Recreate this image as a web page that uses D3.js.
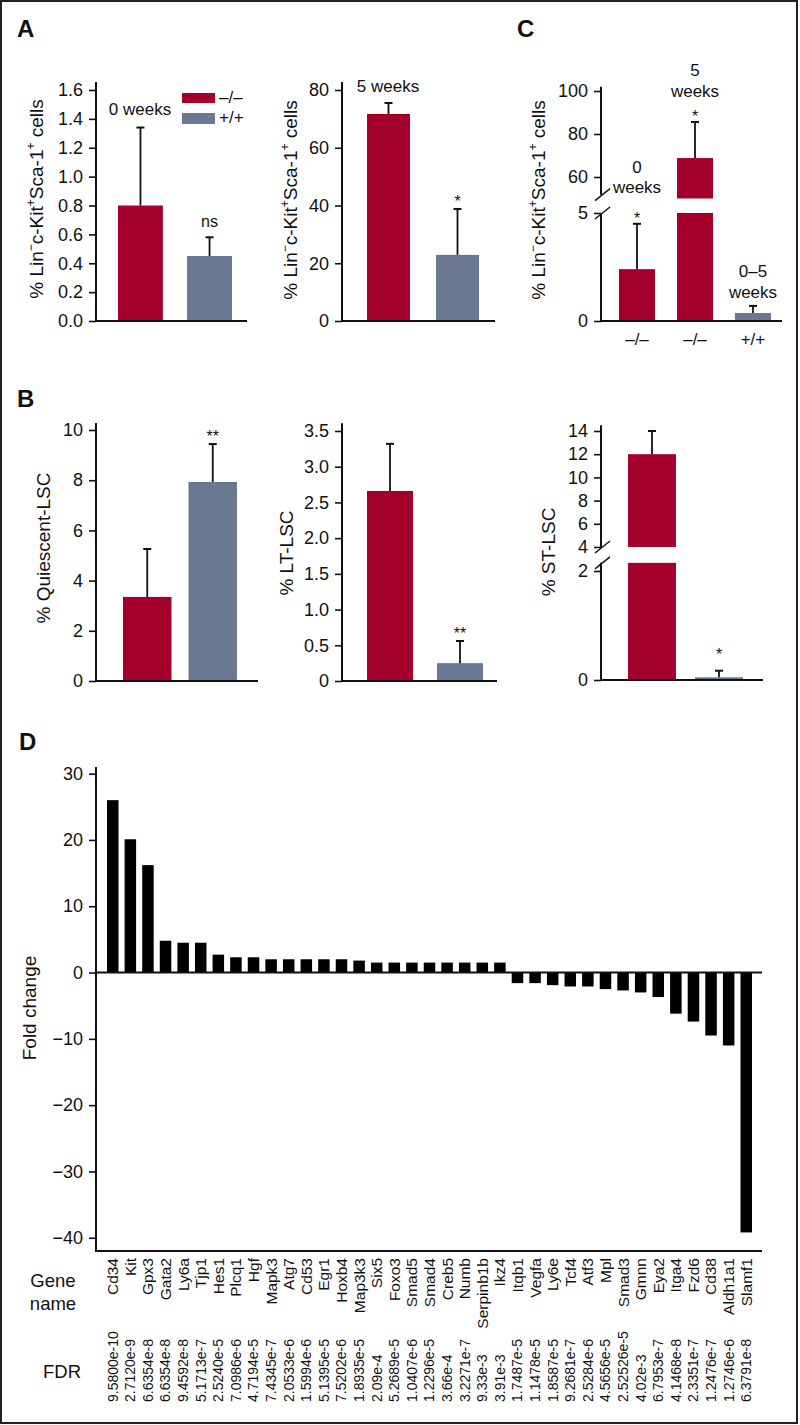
<!DOCTYPE html>
<html><head><meta charset="utf-8">
<script src="https://cdn.jsdelivr.net/npm/d3@7"></script>
<style>
body{margin:0;background:#fff}
svg{display:block}
text{font-family:"Liberation Sans",Arial,Helvetica,sans-serif;fill:#111}
</style></head><body>
<svg id="fig" width="800" height="1425"></svg>
<script>
// ---------------- DATA ----------------
const genotypes = ["–/–", "+/+"];
const a0Vals = [0.80, 0.45], a0Errs = [1.34, 0.58];          // 0 weeks
const a5Vals = [71.7, 22.9], a5Errs = [75.5, 38.8];          // 5 weeks
const a0Ticks = [0, 0.2, 0.4, 0.6, 0.8, 1.0, 1.2, 1.4, 1.6];
const a5Ticks = [0, 20, 40, 60, 80];

const cLabels = ["–/–", "–/–", "+/+"];
const cTimes = [["0", "weeks"], ["5", "weeks"], ["0–5", "weeks"]];
const cVals = [2.4, 68.8, 0.37], cErrs = [4.5, 85.6, 0.7];
const cSig = ["*", "*", ""];
const cTicksUpper = [60, 80, 100], cTicksLower = [0, 5];

const qVals = [3.35, 7.93], qErrs = [5.26, 9.44];            // Quiescent-LSC
const ltVals = [2.66, 0.25], ltErrs = [3.32, 0.56];          // LT-LSC
const stVals = [12.0, 0.05], stErrs = [14.0, 0.17];          // ST-LSC
const qTicks = [0, 2, 4, 6, 8, 10];
const ltTicks = [0, 0.5, 1.0, 1.5, 2.0, 2.5, 3.0, 3.5];
const stTicksUpper = [4, 6, 8, 10, 12, 14], stTicksLower = [0, 2];
const bSig = { q: ["", "**"], lt: ["", "**"], st: ["", "*"] };

const genes = ["Cd34","Kit","Gpx3","Gata2","Ly6a","Tjp1","Hes1","Plcq1","Hgf","Mapk3","Atg7","Cd53","Egr1","Hoxb4","Map3k3","Six5","Foxo3","Smad5","Smad4","Creb5","Numb","Serpinb1b","Ikz4","Itqb1","Vegfa","Ly6e","Tcf4","Atf3","Mpl","Smad3","Gmnn","Eya2","Itga4","Fzd6","Cd38","Aldh1a1","Slamf1"];
const foldChange = [26.0,20.1,16.2,4.8,4.5,4.5,2.7,2.3,2.3,2.0,2.0,2.0,2.0,2.0,1.8,1.5,1.5,1.5,1.5,1.5,1.5,1.5,1.5,-1.6,-1.6,-1.9,-2.1,-2.1,-2.5,-2.7,-3.0,-3.7,-6.2,-7.4,-9.5,-11.0,-39.2];
const fdr = ["9.5800e-10","2.7120e-9","6.6354e-8","6.6354e-8","9.4592e-8","5.1713e-7","2.5240e-5","7.0986e-6","4.7194e-5","7.4345e-7","2.0533e-6","1.5994e-6","5.1395e-5","7.5202e-6","1.8935e-5","2.09e-4","5.2689e-5","1.0407e-6","1.2296e-5","3.66e-4","3.2271e-7","9.33e-3","3.91e-3","1.7487e-5","1.1478e-5","1.8587e-5","9.2681e-7","2.5284e-6","4.5656e-5","2.52526e-5","4.02e-3","6.7953e-7","4.1468e-8","2.3351e-7","1.2476e-7","1.2746e-6","6.3791e-8"];
const dTicks = [-40, -30, -20, -10, 0, 10, 20, 30];

// ---------------- STYLE ----------------
const RED = "#a3002b", GRAY = "#6b7892", INK = "#111";
const FONT = '"Liberation Sans", Arial, Helvetica, sans-serif';
const svg = d3.select("#fig");

svg.append("rect").attr("x", 1).attr("y", 1).attr("width", 796).attr("height", 1422)
  .attr("fill", "none").attr("stroke", "#222").attr("stroke-width", 2);

function panelLetter(t, x, y) {
  svg.append("text").attr("x", x).attr("y", y).attr("font-size", 24)
    .attr("font-weight", "bold").text(t);
}
function vline(x, y1, y2, w) {
  svg.append("line").attr("x1", x).attr("x2", x).attr("y1", y1).attr("y2", y2)
    .attr("stroke", INK).attr("stroke-width", w || 2);
}
function hline(x1, x2, y, w) {
  svg.append("line").attr("x1", x1).attr("x2", x2).attr("y1", y).attr("y2", y)
    .attr("stroke", INK).attr("stroke-width", w || 2);
}
function ticksLeft(scale, x, vals, fmt, fs) {
  const g = svg.append("g").attr("transform", `translate(${x},0)`)
    .call(d3.axisLeft(scale).tickValues(vals).tickFormat(fmt).tickSize(7).tickPadding(6).tickSizeOuter(0));
  g.select(".domain").remove();
  g.attr("font-family", FONT).attr("font-size", fs || 18);
  g.selectAll(".tick line").attr("stroke", INK).attr("stroke-width", 1.6);
  g.selectAll(".tick text").attr("fill", INK);
}
function yLabel(parts, bx, cy, fs) {
  const t = svg.append("text").attr("transform", `translate(${bx},${cy}) rotate(-90)`)
    .attr("text-anchor", "middle").attr("font-size", fs || 19);
  let prevSup = false;
  parts.forEach(p => {
    const s = typeof p === "string" ? { t: p } : p;
    const ts = t.append("tspan").text(s.t);
    if (s.sup) { ts.attr("font-size", 12).attr("dy", -8); prevSup = true; }
    else if (prevSup) { ts.attr("dy", 8); prevSup = false; }
  });
}
function errBar(x, yA, yB) {
  vline(x, yA, yB, 1.8);
  hline(x - 4, x + 4, yB, 2);
}
function label(t, x, y, fs, anchor) {
  svg.append("text").attr("x", x).attr("y", y).attr("font-size", fs || 17)
    .attr("text-anchor", anchor || "middle").text(t);
}
function slash(x, y) {
  svg.append("line").attr("x1", x - 7).attr("y1", y + 6).attr("x2", x + 8).attr("y2", y - 6)
    .attr("stroke", INK).attr("stroke-width", 1.5);
}

function simplePanel(o) {
  const x = d3.scaleBand().domain(d3.range(o.vals.length)).range(o.barRange)
    .paddingInner(o.pi).paddingOuter(0);
  const y = d3.scaleLinear().domain([0, o.tickMaxVal]).range([o.y0, o.yMax]);
  o.vals.forEach((v, i) => {
    svg.append("rect").attr("x", x(i)).attr("y", y(v)).attr("width", x.bandwidth())
      .attr("height", y(0) - y(v)).attr("fill", o.colors[i]);
    errBar(x(i) + x.bandwidth() / 2, y(v), y(o.errs[i]));
    if (o.sig && o.sig[i]) label(o.sig[i], x(i) + x.bandwidth() / 2, y(o.errs[i]) - 2, 16);
  });
  ticksLeft(y, o.axisX, o.ticks, o.fmt);
  vline(o.axisX, y(0) + 1, y(o.topVal));
  hline(o.axisX - 1, o.axisEnd, y(0));
  return { x, y };
}

// ---------------- PANEL A ----------------
panelLetter("A", 17, 37);
const A1 = simplePanel({ vals: a0Vals, errs: a0Errs, colors: [RED, GRAY], barRange: [118, 232], pi: 0.35,
  tickMaxVal: 1.6, y0: 321, yMax: 90, topVal: 1.655, ticks: a0Ticks, fmt: d3.format(".1f"),
  axisX: 96, axisEnd: 247, sig: null });
label("0 weeks", 140, 115, 17);
label("ns", A1.x(1) + A1.x.bandwidth() / 2, 227, 16);
// legend
svg.append("rect").attr("x", 182).attr("y", 93).attr("width", 33).attr("height", 10).attr("fill", RED);
svg.append("rect").attr("x", 182).attr("y", 113).attr("width", 33).attr("height", 11).attr("fill", GRAY);
label(genotypes[0], 219, 103, 17, "start");
label(genotypes[1], 219, 123, 17, "start");
yLabel(["% Lin", { t: "−", sup: true }, "c-Kit", { t: "+", sup: true }, "Sca-1", { t: "+", sup: true }, " cells"], 43, 199);

const A2 = simplePanel({ vals: a5Vals, errs: a5Errs, colors: [RED, GRAY], barRange: [367, 479], pi: 0.377,
  tickMaxVal: 80, y0: 321, yMax: 90, topVal: 82.8, ticks: a5Ticks, fmt: d3.format("d"),
  axisX: 342, axisEnd: 495, sig: ["", "*"] });
label("5 weeks", 388, 92, 17);
yLabel(["% Lin", { t: "−", sup: true }, "c-Kit", { t: "+", sup: true }, "Sca-1", { t: "+", sup: true }, " cells"], 297, 200);

// ---------------- PANEL C ----------------
panelLetter("C", 517, 37);
{
  const xC = d3.scaleBand().domain(d3.range(cVals.length)).range([619, 771]).paddingInner(0.379).paddingOuter(0);
  const yU = d3.scaleLinear().domain([60, 100]).range([177, 91]);
  const yL = d3.scaleLinear().domain([0, 5]).range([321, 213]);
  const brkLow = 5, brkUp = 50;
  const colors = [RED, RED, GRAY];
  cVals.forEach((v, i) => {
    const bx = xC(i), bw = xC.bandwidth(), cx = bx + bw / 2;
    if (v <= brkLow) {
      svg.append("rect").attr("x", bx).attr("y", yL(v)).attr("width", bw).attr("height", yL(0) - yL(v)).attr("fill", colors[i]);
    } else {
      svg.append("rect").attr("x", bx).attr("y", yL(brkLow)).attr("width", bw).attr("height", yL(0) - yL(brkLow)).attr("fill", colors[i]);
      svg.append("rect").attr("x", bx).attr("y", yU(v)).attr("width", bw).attr("height", yU(brkUp) - yU(v)).attr("fill", colors[i]);
    }
    const ys = v > brkLow ? yU : yL;
    const yTop = ys(cErrs[i]);
    errBar(cx, ys(v), yTop);
    if (cSig[i]) label(cSig[i], cx, yTop, 16);
    label(cLabels[i], cx, 345, 17);
  });
  // time annotations
  label(cTimes[0][0], xC(0) + xC.bandwidth() / 2, 173, 17);
  label(cTimes[0][1], xC(0) + xC.bandwidth() / 2, 193, 17);
  label(cTimes[1][0], xC(1) + xC.bandwidth() / 2, 76, 17);
  label(cTimes[1][1], xC(1) + xC.bandwidth() / 2, 97, 17);
  label(cTimes[2][0], xC(2) + xC.bandwidth() / 2, 277, 17);
  label(cTimes[2][1], xC(2) + xC.bandwidth() / 2, 298, 17);
  ticksLeft(yU, 601, cTicksUpper, d3.format("d"));
  ticksLeft(yL, 601, cTicksLower, d3.format("d"));
  vline(601, yU(102), yU(51.8));
  vline(601, yL(5), yL(0) + 1);
  slash(602, yU(51.8));
  slash(602, yL(5));
  hline(600, 782, yL(0));
  yLabel(["% Lin", { t: "−", sup: true }, "c-Kit", { t: "+", sup: true }, "Sca-1", { t: "+", sup: true }, " cells"], 545, 200);
}

// ---------------- PANEL B ----------------
panelLetter("B", 17, 407);
simplePanel({ vals: qVals, errs: qErrs, colors: [RED, GRAY], barRange: [123, 237], pi: 0.26,
  tickMaxVal: 10, y0: 681, yMax: 430, topVal: 10.28, ticks: qTicks, fmt: d3.format("d"),
  axisX: 96, axisEnd: 258, sig: bSig.q });
yLabel(["% Quiescent-LSC"], 50, 548);

simplePanel({ vals: ltVals, errs: ltErrs, colors: [RED, GRAY], barRange: [367, 483], pi: 0.343,
  tickMaxVal: 3.5, y0: 681, yMax: 431, topVal: 3.61, ticks: ltTicks, fmt: d => d === 0 ? "0" : d3.format(".1f")(d),
  axisX: 342, axisEnd: 497, sig: bSig.lt });
yLabel(["% LT-LSC"], 293, 553);

{
  const xS = d3.scaleBand().domain(d3.range(stVals.length)).range([628, 743]).paddingInner(0.284).paddingOuter(0);
  const yU = d3.scaleLinear().domain([4, 14]).range([547, 431]);
  const yL = d3.scaleLinear().domain([0, 2]).range([680, 571]);
  const brkLow = 2.15, brkUp = 4;
  const colors = [RED, GRAY];
  stVals.forEach((v, i) => {
    const bx = xS(i), bw = xS.bandwidth(), cx = bx + bw / 2;
    if (v <= brkLow) {
      svg.append("rect").attr("x", bx).attr("y", yL(v)).attr("width", bw).attr("height", yL(0) - yL(v)).attr("fill", colors[i]);
    } else {
      svg.append("rect").attr("x", bx).attr("y", yL(brkLow)).attr("width", bw).attr("height", yL(0) - yL(brkLow)).attr("fill", colors[i]);
      svg.append("rect").attr("x", bx).attr("y", yU(v)).attr("width", bw).attr("height", yU(brkUp) - yU(v)).attr("fill", colors[i]);
    }
    const ys = v > brkLow ? yU : yL;
    errBar(cx, ys(v), ys(stErrs[i]));
    if (bSig.st[i]) label(bSig.st[i], cx, 660, 16);
  });
  ticksLeft(yU, 601, stTicksUpper, d3.format("d"));
  ticksLeft(yL, 601, stTicksLower, d3.format("d"));
  vline(601, yU(14.5), yU(brkUp));
  vline(601, yL(brkLow), yL(0) + 1);
  slash(602, yU(brkUp));
  slash(602, yL(brkLow));
  hline(600, 763, yL(0));
  yLabel(["% ST-LSC"], 555, 552);
}

// ---------------- PANEL D ----------------
panelLetter("D", 19, 750);
{
  const yD = d3.scaleLinear().domain([-42, 31]).range([1251, 767]);
  const xD = d3.scaleBand().domain(genes).range([107, 752]).paddingInner(0.3465).paddingOuter(0);
  genes.forEach((g, i) => {
    const v = foldChange[i];
    svg.append("rect").attr("x", xD(g)).attr("y", yD(Math.max(0, v))).attr("width", xD.bandwidth())
      .attr("height", Math.abs(yD(v) - yD(0))).attr("fill", "#000");
    const cx = xD(g) + xD.bandwidth() / 2;
    svg.append("text").attr("transform", `translate(${cx},1258) rotate(-90)`)
      .attr("text-anchor", "end").attr("dy", "0.35em").attr("font-size", 15.5).text(g);
    svg.append("text").attr("transform", `translate(${cx},1402) rotate(-90)`)
      .attr("text-anchor", "start").attr("dy", "0.35em").attr("font-size", 14).text(fdr[i]);
  });
  ticksLeft(yD, 96, dTicks, d3.format("d"), 18);
  vline(96, 767, 1252);
  hline(95, 762, yD(0));
  hline(95, 762, yD(-42));
  yLabel(["Fold change"], 36, 1008);
  label("Gene", 53, 1287, 18.5);
  label("name", 53, 1310, 18.5);
  label("FDR", 62, 1378, 18.5);
}
</script>
</body></html>
